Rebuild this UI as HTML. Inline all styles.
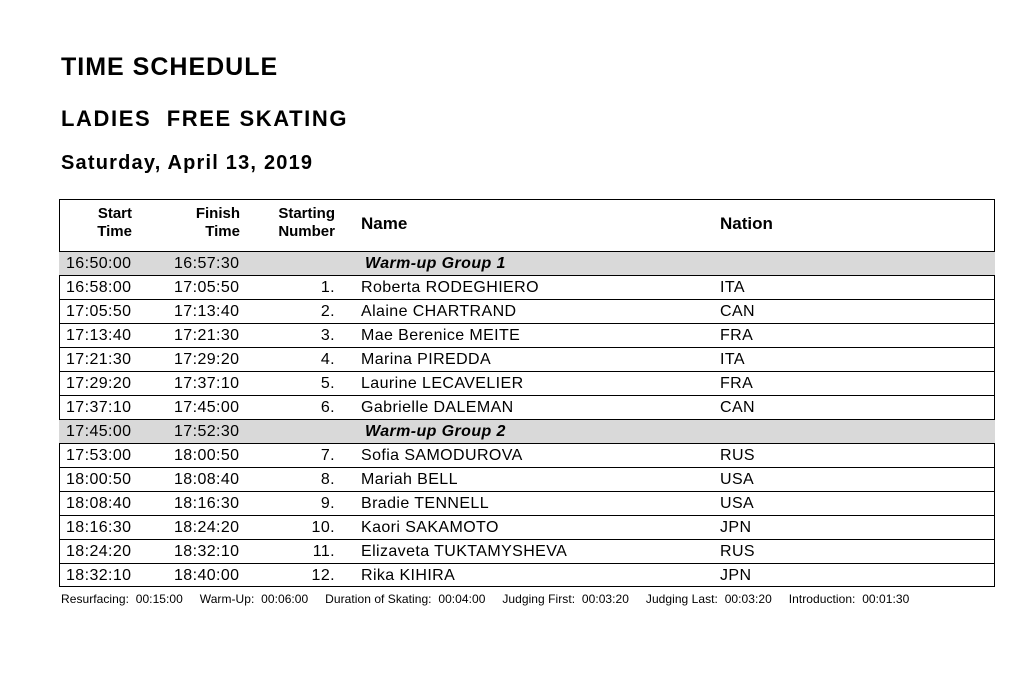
<!DOCTYPE html>
<html><head><style>
body{margin:0;width:1028px;height:684px;background:#fff;font-family:"Liberation Sans",sans-serif;color:#000;position:relative;overflow:hidden}
.t{position:absolute;white-space:nowrap}
.box{position:absolute;left:59px;top:199px;width:934px;height:386px;border:1px solid #000}
.row{position:absolute;left:59px;width:936px;height:24px;border-top:1px solid #000;font-size:16px;line-height:24px;letter-spacing:0.4px}
.row.g{background:#d9d9d9}
.row span{position:absolute;top:0}
.h{font-weight:bold;font-size:15px;line-height:18px;text-align:right}
</style></head><body>
<div class="t" style="left:61px;top:53px;font-size:25px;font-weight:bold;letter-spacing:1px">TIME SCHEDULE</div>
<div class="t" style="left:61px;top:106px;font-size:22px;font-weight:bold;letter-spacing:1.6px">LADIES&nbsp; FREE SKATING</div>
<div class="t" style="left:61px;top:152px;font-size:20px;font-weight:bold;letter-spacing:1.2px">Saturday, April 13, 2019</div>
<div class="box"></div>
<div class="t h" style="right:896px;top:205px">Start<br>Time</div>
<div class="t h" style="right:788px;top:205px">Finish<br>Time</div>
<div class="t h" style="right:693px;top:205px">Starting<br>Number</div>
<div class="t" style="left:361px;top:214px;font-size:17px;font-weight:bold">Name</div>
<div class="t" style="left:720px;top:214px;font-size:17px;font-weight:bold">Nation</div>
<div class="row g" style="top:251px"><span style="left:7px">16:50:00</span><span style="left:115px">16:57:30</span><span style="left:306px;font-weight:bold;font-style:italic">Warm-up Group 1</span></div>
<div class="row" style="top:275px"><span style="left:7px">16:58:00</span><span style="left:115px">17:05:50</span><span style="right:660px">1.</span><span style="left:302px">Roberta RODEGHIERO</span><span style="left:661px">ITA</span></div>
<div class="row" style="top:299px"><span style="left:7px">17:05:50</span><span style="left:115px">17:13:40</span><span style="right:660px">2.</span><span style="left:302px">Alaine CHARTRAND</span><span style="left:661px">CAN</span></div>
<div class="row" style="top:323px"><span style="left:7px">17:13:40</span><span style="left:115px">17:21:30</span><span style="right:660px">3.</span><span style="left:302px">Mae Berenice MEITE</span><span style="left:661px">FRA</span></div>
<div class="row" style="top:347px"><span style="left:7px">17:21:30</span><span style="left:115px">17:29:20</span><span style="right:660px">4.</span><span style="left:302px">Marina PIREDDA</span><span style="left:661px">ITA</span></div>
<div class="row" style="top:371px"><span style="left:7px">17:29:20</span><span style="left:115px">17:37:10</span><span style="right:660px">5.</span><span style="left:302px">Laurine LECAVELIER</span><span style="left:661px">FRA</span></div>
<div class="row" style="top:395px"><span style="left:7px">17:37:10</span><span style="left:115px">17:45:00</span><span style="right:660px">6.</span><span style="left:302px">Gabrielle DALEMAN</span><span style="left:661px">CAN</span></div>
<div class="row g" style="top:419px"><span style="left:7px">17:45:00</span><span style="left:115px">17:52:30</span><span style="left:306px;font-weight:bold;font-style:italic">Warm-up Group 2</span></div>
<div class="row" style="top:443px"><span style="left:7px">17:53:00</span><span style="left:115px">18:00:50</span><span style="right:660px">7.</span><span style="left:302px">Sofia SAMODUROVA</span><span style="left:661px">RUS</span></div>
<div class="row" style="top:467px"><span style="left:7px">18:00:50</span><span style="left:115px">18:08:40</span><span style="right:660px">8.</span><span style="left:302px">Mariah BELL</span><span style="left:661px">USA</span></div>
<div class="row" style="top:491px"><span style="left:7px">18:08:40</span><span style="left:115px">18:16:30</span><span style="right:660px">9.</span><span style="left:302px">Bradie TENNELL</span><span style="left:661px">USA</span></div>
<div class="row" style="top:515px"><span style="left:7px">18:16:30</span><span style="left:115px">18:24:20</span><span style="right:660px">10.</span><span style="left:302px">Kaori SAKAMOTO</span><span style="left:661px">JPN</span></div>
<div class="row" style="top:539px"><span style="left:7px">18:24:20</span><span style="left:115px">18:32:10</span><span style="right:660px">11.</span><span style="left:302px">Elizaveta TUKTAMYSHEVA</span><span style="left:661px">RUS</span></div>
<div class="row" style="top:563px"><span style="left:7px">18:32:10</span><span style="left:115px">18:40:00</span><span style="right:660px">12.</span><span style="left:302px">Rika KIHIRA</span><span style="left:661px">JPN</span></div>
<div class="t" style="left:61px;top:592px;font-size:12px;letter-spacing:0.05px">Resurfacing:&nbsp; 00:15:00&nbsp;&nbsp;&nbsp;&nbsp; Warm-Up:&nbsp; 00:06:00&nbsp;&nbsp;&nbsp;&nbsp; Duration of Skating:&nbsp; 00:04:00&nbsp;&nbsp;&nbsp;&nbsp; Judging First:&nbsp; 00:03:20&nbsp;&nbsp;&nbsp;&nbsp; Judging Last:&nbsp; 00:03:20&nbsp;&nbsp;&nbsp;&nbsp; Introduction:&nbsp; 00:01:30</div>
</body></html>
